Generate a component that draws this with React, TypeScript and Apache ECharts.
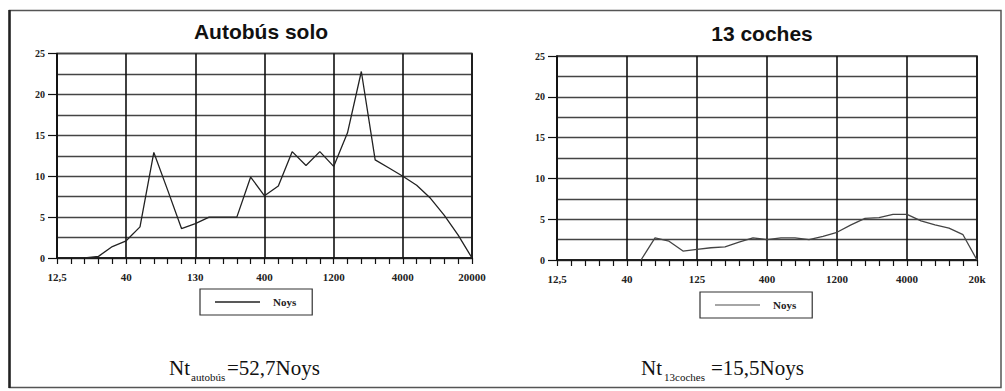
import React, { useEffect, useRef } from "react";
import * as echarts from "echarts";

const bandsLeft = ["12,5","16","20","25","31,5","40","50","63","80","100","130","160","200","250","315","400","500","630","800","1000","1200","1600","2000","2500","3150","4000","5000","6300","8000","12500","20000"];
const bandsRight = ["12,5","16","20","25","31,5","40","50","63","80","100","125","160","200","250","315","400","500","630","800","1000","1200","1600","2000","2500","3150","4000","5000","6300","8000","12500","20k"];

const busNoys = [null, null, 0, 0.2, 1.4, 2.1, 3.8, 12.9, 8.3, 3.6, 4.2, 5.0, 5.0, 5.0, 9.9, 7.6, 8.8, 13.0, 11.3, 13.0, 11.2, 15.3, 22.8, 12.0, 11.0, 10.0, 8.9, 7.3, 5.2, 2.8, 0];
const carsNoys = [null, null, null, null, null, null, 0, 2.7, 2.3, 1.1, 1.3, 1.5, 1.6, 2.2, 2.7, 2.5, 2.7, 2.7, 2.5, 2.9, 3.4, 4.3, 5.1, 5.2, 5.6, 5.6, 4.8, 4.3, 3.9, 3.1, 0];

const titles = ["Autobús solo", "13 coches"];
const seriesName = "Noys";

const serif = "Liberation Serif, Times New Roman, serif";
const sans = "Liberation Sans, Arial, sans-serif";

function mkX(gridIndex: number, data: string[]) {
  return {
    type: "category",
    gridIndex,
    data,
    boundaryGap: false,
    axisLine: { show: true, lineStyle: { color: "#111", width: 1.5 } },
    axisTick: { show: true, interval: 0, length: 6, lineStyle: { color: "#111", width: 1.2 } },
    axisLabel: { interval: 4, margin: 13, fontFamily: serif, fontWeight: "bold", fontSize: 11, color: "#222" },
    splitLine: { show: true, interval: 4, lineStyle: { color: "#111", width: 1.6 } },
  };
}

function mkY(gridIndex: number) {
  return {
    type: "value",
    gridIndex,
    min: 0,
    max: 25,
    interval: 5,
    axisLine: { show: true, lineStyle: { color: "#111", width: 1.5 } },
    axisTick: { show: true, length: 9, lineStyle: { color: "#111", width: 1.2 } },
    minorTick: { show: false, splitNumber: 2 },
    minorSplitLine: { show: true, lineStyle: { color: "#444", width: 1.3 } },
    splitLine: { show: true, lineStyle: { color: "#444", width: 1.3 } },
    axisLabel: { margin: 12, fontFamily: serif, fontWeight: "bold", fontSize: 10, color: "#222" },
  };
}

function txt(x: number, y: number, text: string, size: number, family: string, extra: any = {}) {
  return {
    type: "text",
    x,
    y,
    silent: true,
    style: {
      text,
      fontSize: size,
      fontFamily: family,
      fill: "#111",
      align: "left",
      verticalAlign: "middle",
      ...extra,
    },
  };
}

export default function App() {
  const ref = useRef<HTMLDivElement>(null);
  useEffect(() => {
    if (!ref.current) return;
    const chart = echarts.init(ref.current, undefined, { renderer: "svg" });
    const legendBase = {
      orient: "horizontal",
      icon: "rect",
      itemWidth: 45,
      itemHeight: 1.5,
      padding: [6, 16, 6, 15],
      borderColor: "#333",
      borderWidth: 1.2,
      backgroundColor: "#fff",
      selectedMode: false,
      textStyle: { fontFamily: serif, fontWeight: "bold", fontSize: 11, color: "#222", padding: [0, 0, 0, 8], lineHeight: 14 },
    };
    const option: any = {
      animation: false,
      backgroundColor: "#fff",
      grid: [
        { left: 57, top: 53.5, width: 415, height: 204.5, show: true, borderColor: "#222", borderWidth: 1.5, backgroundColor: "transparent", containLabel: false, outerBoundsMode: "none" },
        { left: 557, top: 56, width: 420, height: 204, show: true, borderColor: "#222", borderWidth: 1.5, backgroundColor: "transparent", containLabel: false, outerBoundsMode: "none" },
      ],
      xAxis: [mkX(0, bandsLeft), mkX(1, bandsRight)],
      yAxis: [mkY(0), mkY(1)],
      legend: [
        { ...legendBase, left: 200, top: 289, data: [{ name: seriesName, itemStyle: { color: "#222", borderWidth: 0 } }] },
        { ...legendBase, left: 700, top: 292, data: [{ name: seriesName, itemStyle: { color: "#888", borderWidth: 0 } }] },
      ],
      series: [
        {
          name: seriesName,
          type: "line",
          xAxisIndex: 0,
          yAxisIndex: 0,
          data: busNoys,
          symbol: "none",
          showSymbol: false,
          connectNulls: false,
          lineStyle: { color: "#222", width: 1.3 },
          itemStyle: { color: "#222" },
        },
        {
          name: seriesName,
          type: "line",
          xAxisIndex: 1,
          yAxisIndex: 1,
          data: carsNoys,
          symbol: "none",
          showSymbol: false,
          connectNulls: false,
          lineStyle: { color: "#444", width: 1.3 },
          itemStyle: { color: "#444" },
        },
      ],
      graphic: [
        { type: "rect", silent: true, z: -10, shape: { x: 9.5, y: 10.5, width: 991.5, height: 377 }, style: { fill: "none", stroke: "#555", lineWidth: 1.5 } },
        { type: "line", silent: true, shape: { x1: 9.5, y1: 10, x2: 9.5, y2: 388 }, style: { stroke: "#222", lineWidth: 2.5 } },
        txt(261, 31.5, titles[0], 21, sans, { fontWeight: "bold", align: "center" }),
        txt(762, 33, titles[1], 21, sans, { fontWeight: "bold", align: "center" }),
        txt(169, 368, "Nt", 21, serif),
        txt(191, 377, "autobús", 11, serif),
        txt(227, 368, "=52,7Noys", 21, serif),
        txt(641, 368, "Nt", 21, serif),
        txt(664, 377, "13coches", 11, serif),
        txt(711, 368, "=15,5Noys", 21, serif),
      ],
    };
    chart.setOption(option);
    return () => chart.dispose();
  }, []);
  return <div ref={ref} style={{ position: "fixed", left: 0, top: 0, width: 1005, height: 391 }} />;
}
